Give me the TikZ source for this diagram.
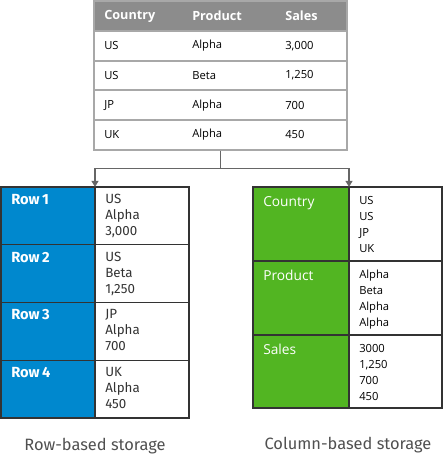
\documentclass[tikz,border=0pt]{standalone}
\usepackage{fontspec}
\setmainfont{Open Sans}
\newfontfamily\rowfont{Fira Sans}
\usetikzlibrary{arrows.meta}
\definecolor{hdrgray}{HTML}{8C8C8C}
\definecolor{linegray}{HTML}{A8A8A8}
\definecolor{wiregray}{HTML}{666666}
\definecolor{rowblue}{HTML}{0088CE}
\definecolor{colgreen}{HTML}{52B522}
\definecolor{capgray}{HTML}{505050}
\definecolor{txtgray}{HTML}{333333}
\begin{document}
\begin{tikzpicture}[x=0.75pt, y=-0.75pt, >={Triangle[length=4.5pt,width=5pt]},
  cell/.style={anchor=west, inner sep=0pt, text=black, font=\fontsize{8.4}{10}\selectfont},
  hdr/.style={anchor=west, inner sep=0pt, text=white, font=\fontsize{9.5}{11}\selectfont\bfseries},
  rowlab/.style={anchor=north west, inner sep=0pt, text=white, font=\rowfont\fontsize{11}{12}\selectfont\bfseries},
  rowval/.style={anchor=north west, inner sep=0pt, align=left, text=txtgray, font=\rowfont\fontsize{10}{12}\selectfont},
  collab/.style={anchor=north west, inner sep=0pt, text=white, font=\fontsize{10.3}{12}\selectfont},
  colval/.style={anchor=north west, inner sep=0pt, align=left, text=black, font=\fontsize{8.4}{12}\selectfont},
  caption/.style={inner sep=0pt, text=capgray, font=\rowfont\fontsize{12.3}{14}\selectfont},
  wire/.style={wiregray, line width=1.4pt, ->}]
\useasboundingbox (0,0) rectangle (443,466);

% source table
\fill[hdrgray] (94,1) rectangle (347,31);
\node[draw=linegray, line width=0.8pt, minimum width=253*0.75pt, minimum height=149*0.75pt,
  inner sep=0pt] (tbl) at (220.5,75.5) {};
\foreach \y in {31,61,90,120}
  \draw[linegray, line width=0.8pt] (94,\y) -- (347,\y);
\node[hdr] (hcountry) at (104,16) {Country};
\node[hdr] (hproduct) at (192,16) {Product};
\node[hdr] (hsales) at (285,16) {Sales};
\foreach \c/\p/\s [count=\i] in {US/Alpha/{3,000}, US/Beta/{1,250}, JP/Alpha/700, UK/Alpha/450}
{
  \node[cell] (c\i) at (104,16+29.7*\i) {\c};
  \node[cell] (p\i) at (192,16+29.7*\i) {\p};
  \node[cell] (s\i) at (285,16+29.7*\i) {\s};
}

% row-based storage
\fill[rowblue] (1,187) rectangle (95,418);
\draw[txtgray, line width=0.9pt] (1,187) rectangle (189,418);
\draw[txtgray, line width=0.9pt] (95,187) -- (95,418);
\foreach \y in {244.75,302.5,360.25}
  \draw[txtgray, line width=0.9pt] (1,\y) -- (189,\y);
\foreach \v [count=\i] in {{US\\Alpha\\3,000}, {US\\Beta\\1,250}, {JP\\Alpha\\700}, {UK\\Alpha\\450}}
{
  \node[rowlab] (row\i) at (11,194+57.75*\i-57.75) {Row\,\i};
  \node[rowval] (rv\i) at (105,194+57.75*\i-57.75) {\v};
}
\coordinate (rowtop) at (95,187);
\node[caption] (rowcap) at (95,446) {Row-based storage};

% column-based storage
\fill[colgreen] (253,187) rectangle (349,408);
\draw[txtgray, line width=0.9pt] (253,187) rectangle (442,408);
\draw[txtgray, line width=0.9pt] (349,187) -- (349,408);
\foreach \y in {261,335}
  \draw[txtgray, line width=0.9pt] (253,\y) -- (442,\y);
\foreach \n/\v [count=\i] in {Country/{US\\US\\JP\\UK}, Product/{Alpha\\Beta\\Alpha\\Alpha}, Sales/{3000\\1,250\\700\\450}}
{
  \node[collab] (col\i) at (263,196+74*\i-74) {\n};
  \node[colval] (cv\i) at (359,196+74*\i-74) {\v};
}
\coordinate (coltop) at (349,187);
\node[caption] (colcap) at (348,445) {Column-based storage};

% connectors
\draw[wire] (tbl.south) -- ++(0,18) -| (rowtop);
\draw[wire] (tbl.south) -- ++(0,18) -| (coltop);
\end{tikzpicture}
\end{document}
